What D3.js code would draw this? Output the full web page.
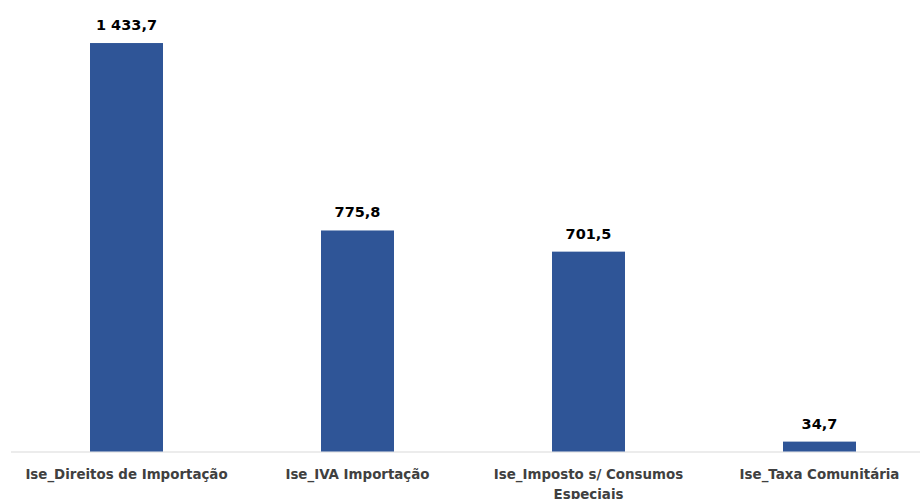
<!DOCTYPE html>
<html>
<head>
<meta charset="utf-8">
<script src="https://cdn.jsdelivr.net/npm/d3@7"></script>
<style>
body{margin:0;background:#fff;}
svg{display:block;}
</style>
</head>
<body>
<script>
var categories = [["Ise_Direitos de Importação"], ["Ise_IVA Importação"], ["Ise_Imposto s/ Consumos", "Especiais"], ["Ise_Taxa Comunitária"]];
var values = [1433.7, 775.8, 701.5, 34.7];
var labels = ["1 433,7", "775,8", "701,5", "34,7"];

var width = 920, height = 499, baseY = 451.5;

var svg = d3.select('body').append('svg').attr('width', width).attr('height', height);

var x = d3.scaleBand().domain(d3.range(values.length)).range([11, 935]).paddingInner(0.684).paddingOuter(0.342);
var y = d3.scaleLinear().domain([0, 1600]).range([baseY, baseY - 1600 * 0.2849]);

// axis line
svg.append('line')
	.attr('x1', 11).attr('x2', width).attr('y1', baseY + 0.5).attr('y2', baseY + 0.5)
	.attr('stroke', '#d9d9d9').attr('stroke-width', 1.2);

svg.selectAll('rect.bar').data(values).enter().append('rect')
	.attr('class', 'bar')
	.attr('x', function(d, i){ return x(i); })
	.attr('width', x.bandwidth())
	.attr('y', function(d){ return y(d); })
	.attr('height', function(d){ return baseY - y(d); })
	.attr('fill', '#2f5597');

svg.selectAll('text.val').data(values).enter().append('text')
	.attr('class', 'val')
	.attr('x', function(d, i){ return x(i) + x.bandwidth() / 2; })
	.attr('y', function(d){ return y(d) - 13; })
	.attr('text-anchor', 'middle')
	.style('font-family', 'DejaVu Sans, Verdana, sans-serif')
	.style('font-weight', 'bold')
	.style('font-size', '14.5px')
	.attr('fill', '#000')
	.text(function(d, i){ return labels[i]; });

var cat = svg.selectAll('text.cat').data(categories).enter().append('text')
	.attr('class', 'cat')
	.attr('x', function(d, i){ return x(i) + x.bandwidth() / 2; })
	.attr('y', 479)
	.attr('text-anchor', 'middle')
	.style('font-family', 'DejaVu Sans, Verdana, sans-serif')
	.style('font-weight', 'bold')
	.style('font-size', '13.4px')
	.attr('fill', '#404040');

// the last line of a wrapped label runs off the bottom, as in the original
cat.each(function(d, i){
	var t = d3.select(this);
	d.forEach(function(line, j){
		t.append('tspan').attr('x', x(i) + x.bandwidth() / 2).attr('dy', j == 0 ? 0 : 20).text(line);
	});
});
</script>
</body>
</html>
